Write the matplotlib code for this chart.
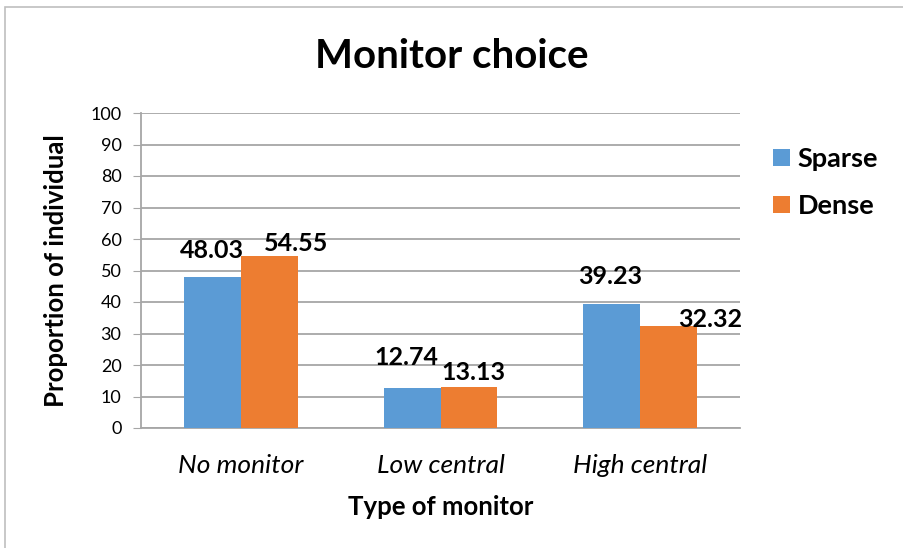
import numpy as np
import matplotlib.pyplot as plt
from matplotlib.patches import Rectangle

categories = ["No monitor", "Low central", "High central"]
sparse = [48.03, 12.74, 39.23]
dense = [54.55, 13.13, 32.32]
yticks = list(range(0, 101, 10))

# label offsets (points), placed by hand like the original
sparse_off = [(0, 19), (-4, 22), (-1, 20)]
dense_off = [(19, 9), (3, 10), (30, 5)]

font = "Lato"
blue = "#5B9BD5"
orange = "#ED7D31"
grid_c = "#A6A6A6"

fig = plt.figure(figsize=(9.04, 5.48), dpi=100)
fig.patches.append(Rectangle((0.006, -0.1), 1.1, 1.087, transform=fig.transFigure,
                             fill=False, edgecolor="#BFBFBF", linewidth=1.2))
ax = fig.add_axes([141 / 904, 1 - 428 / 548, 599 / 904, 315 / 548])

x = np.arange(len(categories))
w = 0.285
b1 = ax.bar(x - w / 2, sparse, w, color=blue, zorder=3, label="Sparse")
b2 = ax.bar(x + w / 2, dense, w, color=orange, zorder=3, label="Dense")

for bars, vals, offs in [(b1, sparse, sparse_off), (b2, dense, dense_off)]:
    for rect, v, off in zip(bars, vals, offs):
        ax.annotate(f"{v:.2f}", (rect.get_x() + rect.get_width() / 2, v), xytext=off,
                    textcoords="offset points", ha="center", va="center",
                    fontsize=18, fontweight="bold", family=font, zorder=4)

ax.set_xlim(-0.5, 2.5)
ax.set_ylim(0, 100)
ax.set_yticks(yticks)
ax.set_yticklabels([str(t) for t in yticks], family=font, fontsize=13)
ax.set_xticks(x)
ax.set_xticklabels(categories, family=font, fontsize=19, style="italic")
ax.tick_params(axis="x", length=0, pad=19)
ax.tick_params(axis="y", length=6, color=grid_c, pad=8)
ax.yaxis.grid(True, color=grid_c, linewidth=1.3, zorder=0)
for s in ["top", "right"]:
    ax.spines[s].set_visible(False)
for s in ["left", "bottom"]:
    ax.spines[s].set_color(grid_c)
    ax.spines[s].set_linewidth(1.3)

ax.set_xlabel("Type of monitor", family=font, fontsize=18.5, fontweight="bold", labelpad=13)
ax.set_ylabel("Proportion of individual", family=font, fontsize=18.5, fontweight="bold", labelpad=16)
fig.text(0.5, 1 - 57 / 548, "Monitor choice", ha="center", va="center",
         family=font, fontsize=29, fontweight="bold")

ax.legend(loc="upper left", bbox_to_anchor=(1.015, 0.97), frameon=False,
          prop={"family": font, "weight": "bold", "size": 19.5},
          handlelength=0.6, handleheight=0.6, handletextpad=0.3, labelspacing=0.85)

fig.savefig("out.png", dpi=100)
